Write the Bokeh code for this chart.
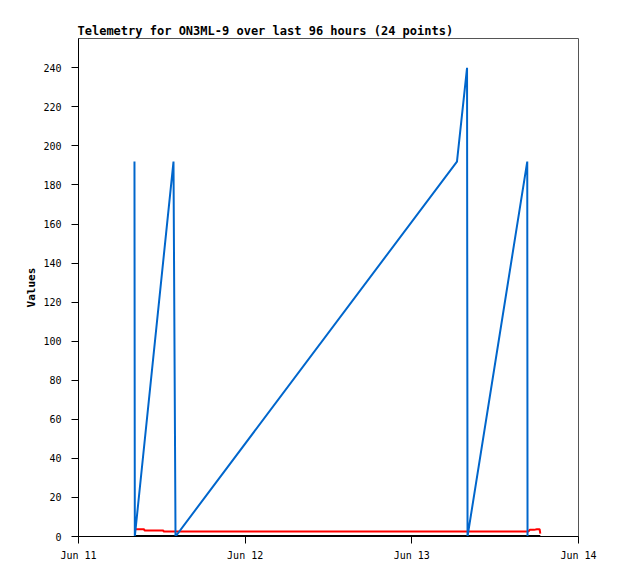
from datetime import datetime, timedelta
from bokeh.plotting import figure
from bokeh.models import Range1d, SingleIntervalTicker, DaysTicker, DatetimeTickFormatter
from bokeh.embed import file_html
from bokeh.resources import INLINE

base = datetime(2024, 6, 11)

# hours after Jun 11 00:00 and values
blue_hours = [8.06, 8.11, 13.68, 13.97, 54.5, 55.95, 56.02, 64.62, 64.66]
blue_vals = [192, 0, 192, 0, 192, 240, 0, 192, 0]

red_hours = [8.06, 9.45, 9.5, 12.2, 12.25, 64.8, 65.0, 65.6, 66.0, 66.4, 66.5]
red_vals = [3.7, 3.7, 3.1, 3.1, 2.6, 2.6, 3.5, 3.4, 3.7, 3.7, 1.5]

black_hours = [8.06, 66.5]
black_vals = [0, 0]

def to_dt(hours):
    return [base + timedelta(hours=h) for h in hours]

p = figure(width=602, height=563, x_axis_type="datetime",
           output_backend="svg", toolbar_location=None,
           min_border_left=78, min_border_right=24,
           min_border_top=38, min_border_bottom=25,
           title="Telemetry for ON3ML-9 over last 96 hours (24 points)")

p.x_range = Range1d(base, base + timedelta(days=3))
p.y_range = Range1d(0, 255)

p.line(to_dt(black_hours), black_vals, line_color="black", line_width=3)
p.line(to_dt(red_hours), red_vals, line_color="#ff0000", line_width=2)
p.line(to_dt(blue_hours), blue_vals, line_color="#0066cc", line_width=2)

p.title.text_font = "DejaVu Sans Mono"
p.title.text_font_style = "bold"
p.title.text_font_size = "12px"
p.title.text_color = "black"
p.title.align = "left"
p.title.offset = -1
p.title.standoff = 2

p.xgrid.visible = False
p.ygrid.visible = False
p.outline_line_color = "#555555"
p.outline_line_width = 1
p.background_fill_color = "white"
p.border_fill_color = "white"

p.yaxis.ticker = SingleIntervalTicker(interval=20)
p.xaxis.ticker = DaysTicker(days=list(range(1, 32)))
p.xaxis.formatter = DatetimeTickFormatter(days="%b %d", months="%b %d")

p.yaxis.axis_label = "Values"
p.yaxis.axis_label_text_font = "DejaVu Sans Mono"
p.yaxis.axis_label_text_font_style = "bold"
p.yaxis.axis_label_text_font_size = "11px"
p.yaxis.axis_label_text_color = "black"
p.yaxis.axis_label_standoff = 2

for ax in (p.xaxis, p.yaxis):
    ax.axis_line_color = "black"
    ax.major_tick_line_color = "black"
    ax.major_tick_out = 7
    ax.major_tick_in = 0
    ax.minor_tick_out = 0
    ax.minor_tick_in = 0
    ax.major_label_text_font = "DejaVu Sans Mono"
    ax.major_label_text_font_size = "10px"
    ax.major_label_text_color = "black"

p.yaxis.major_label_standoff = 10
p.xaxis.major_label_standoff = 6

open("out.html", "w").write(file_html(p, INLINE))
